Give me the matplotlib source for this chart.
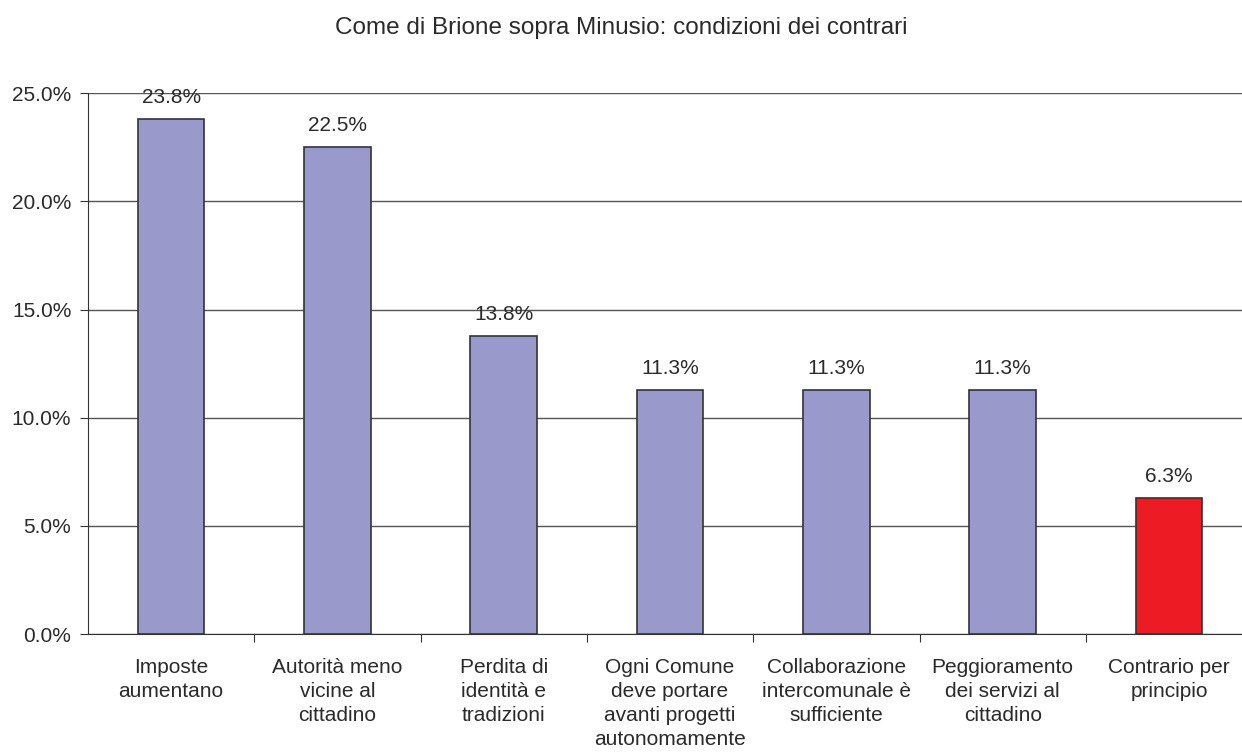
import matplotlib.pyplot as plt

plt.rcParams['font.family'] = ['Liberation Sans', 'DejaVu Sans']

categories = [
    "Imposte\naumentano",
    "Autorità meno\nvicine al\ncittadino",
    "Perdita di\nidentità e\ntradizioni",
    "Ogni Comune\ndeve portare\navanti progetti\nautonomamente",
    "Collaborazione\nintercomunale è\nsufficiente",
    "Peggioramento\ndei servizi al\ncittadino",
    "Contrario per\nprincipio",
]
values = [23.8, 22.5, 13.8, 11.3, 11.3, 11.3, 6.3]
colors = ['#9999CC'] * 6 + ['#ED1C24']

fig = plt.figure(figsize=(12.42, 7.54), dpi=100)
ax = fig.add_axes([88 / 1242, 120 / 754, 1154 / 1242, (634 - 93.3) / 754])

x = range(len(values))
ax.bar(x, values, width=0.4, color=colors, edgecolor='#333333', linewidth=1.2, zorder=3)

# value labels above bars
for xi, v in zip(x, values):
    ax.text(xi, v + 0.55, f"{v:.1f}%", ha='center', va='bottom', fontsize=15, color='#2a2a2a')

ax.set_ylim(0, 25)
ax.set_xlim(-0.5, -0.5 + 1154 / 166.3)
ax.set_yticks([0, 5, 10, 15, 20, 25])
ax.set_yticklabels([f"{t:.1f}%" for t in [0, 5, 10, 15, 20, 25]], fontsize=15, color='#2a2a2a')
ax.yaxis.grid(True, color='#555555', linewidth=1, zorder=0)

# ticks between categories, labels centred under bars
ax.set_xticks([i + 0.5 for i in range(6)])
ax.set_xticklabels([])
ax.set_xticks(list(x), minor=True)
ax.set_xticklabels(categories, minor=True, fontsize=15, color='#2a2a2a', linespacing=1.35)
ax.tick_params(axis='x', which='minor', length=0, pad=17)
ax.tick_params(axis='x', which='major', length=6, color='#333333')
ax.tick_params(axis='y', length=6, color='#333333', pad=6)

for s in ['top', 'right']:
    ax.spines[s].set_visible(False)
ax.spines['left'].set_color('#333333')
ax.spines['bottom'].set_color('#333333')

fig.text(0.5, 1 - 28 / 754, "Come di Brione sopra Minusio: condizioni dei contrari",
         ha='center', va='center', fontsize=17.5, color='#2a2a2a')

fig.savefig('out.png', dpi=100)
